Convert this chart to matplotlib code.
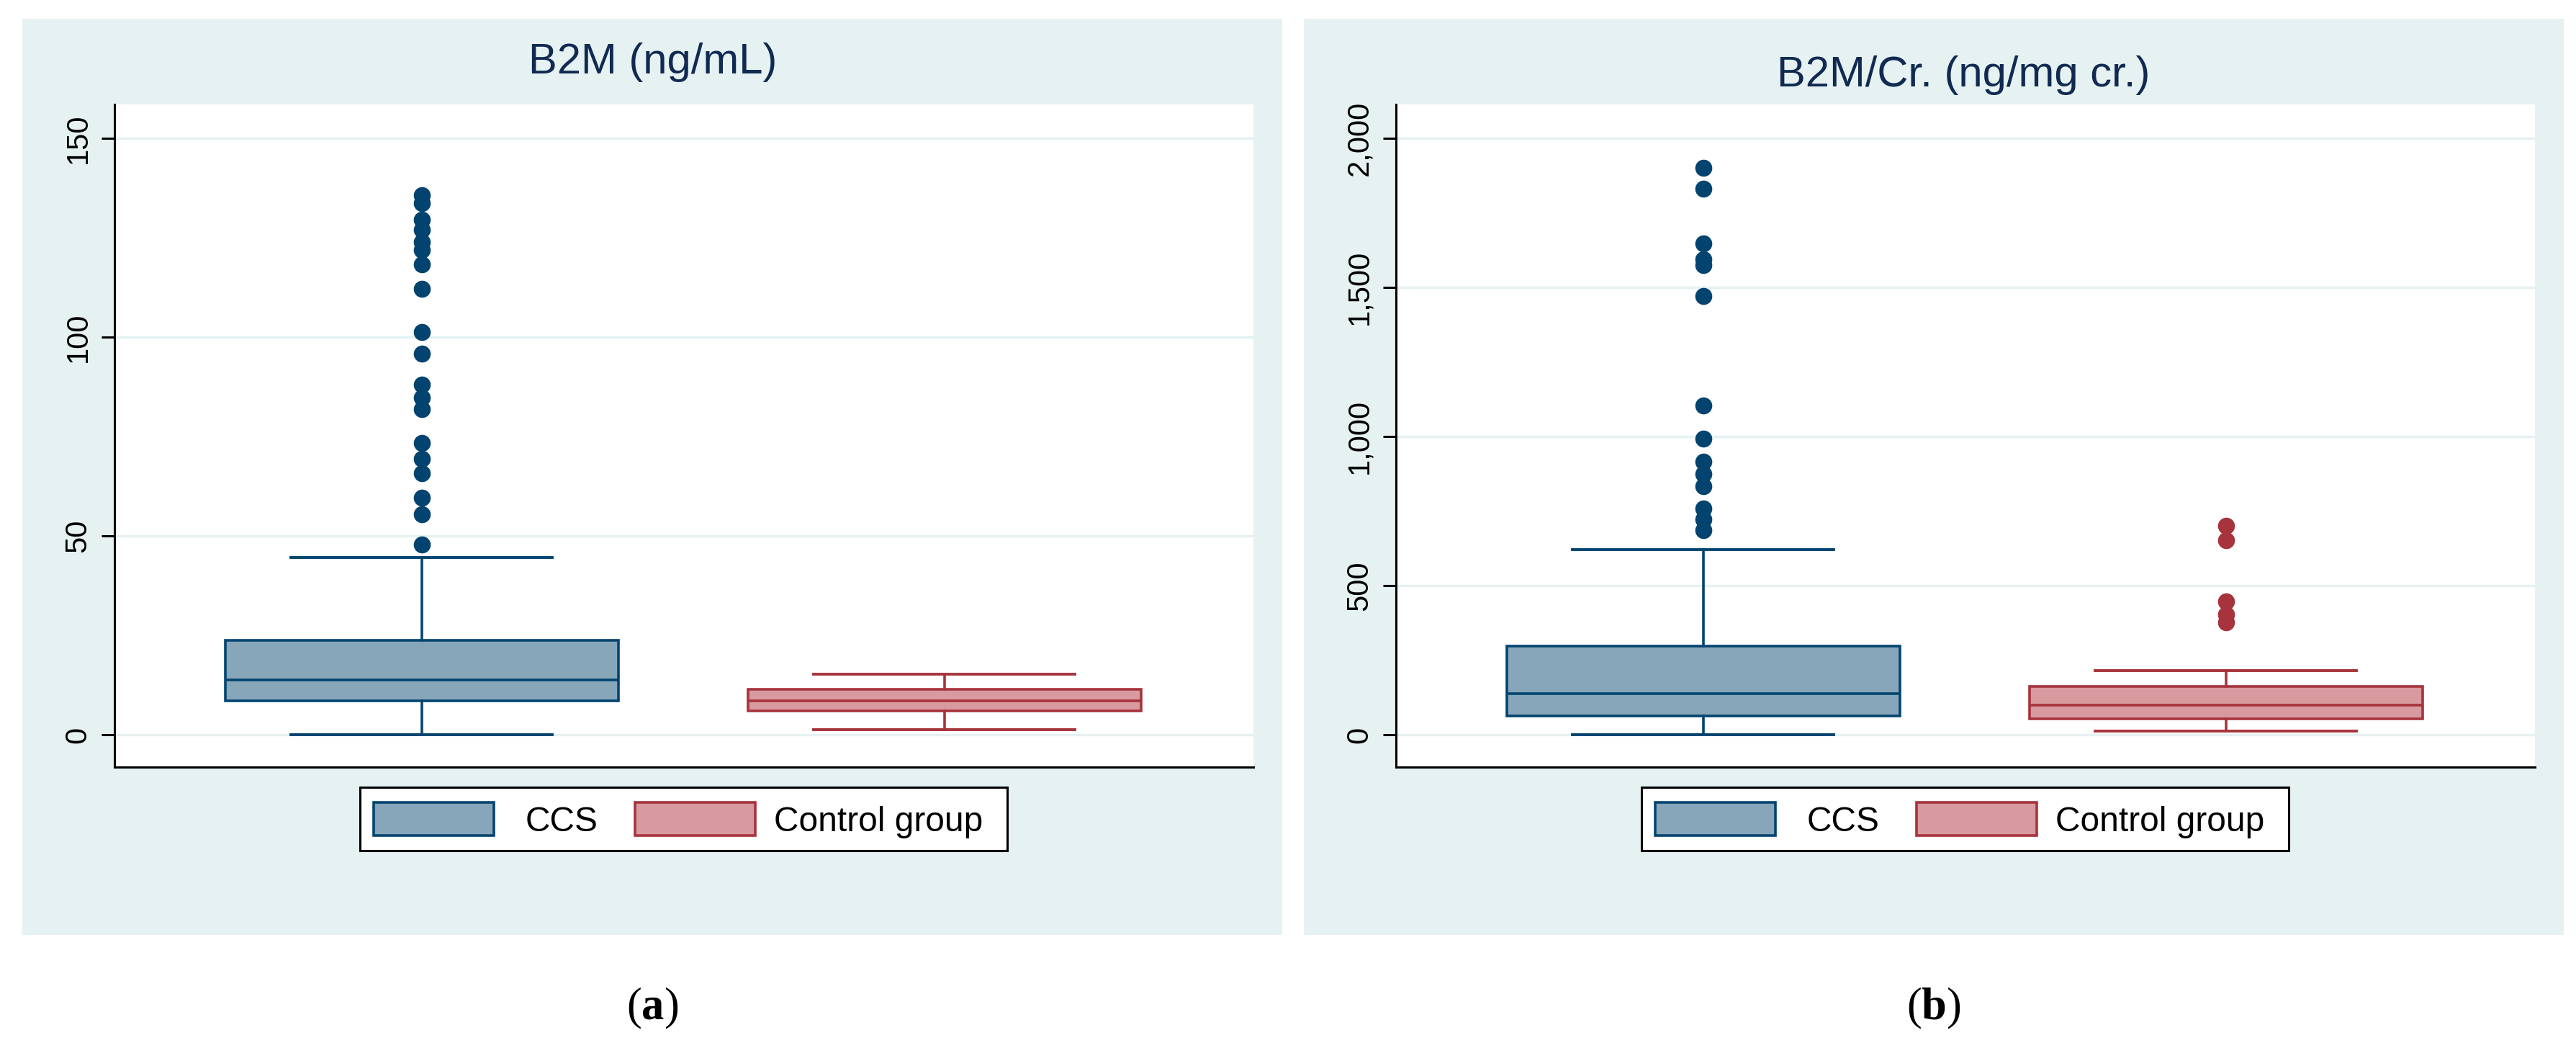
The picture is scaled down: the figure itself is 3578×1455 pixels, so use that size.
import matplotlib
matplotlib.use("Agg")
import matplotlib.pyplot as plt
from matplotlib.patches import Rectangle

plt.rcParams['font.family'] = ['Liberation Sans', 'DejaVu Sans']
plt.rcParams['mathtext.fontset'] = 'custom'
plt.rcParams['mathtext.rm'] = 'Liberation Serif'
plt.rcParams['mathtext.bf'] = 'Liberation Serif:bold'

# Dados
grupos = ['CCS', 'Control group']

# (a) B2M (ng/mL)
b2m_ccs = dict(whislo=0.0, q1=8.5, med=13.8, q3=23.7, whishi=44.6)
b2m_ccs_out = [135.6, 133.6, 129.5, 126.9, 123.9, 121.9, 118.2, 112.2, 101.2,
               95.8, 88.1, 84.7, 81.8, 73.3, 69.3, 65.7, 59.6, 55.5, 47.9]
b2m_ctrl = dict(whislo=1.3, q1=6.0, med=8.6, q3=11.4, whishi=15.2)
b2m_ctrl_out = []

# (b) B2M/Cr. (ng/mg cr.)
b2mcr_ccs = dict(whislo=1.0, q1=64, med=137, q3=296, whishi=621)
b2mcr_ccs_out = [1900, 1831, 1647, 1595, 1575, 1471, 1103, 992, 916, 874,
                 833, 759, 722, 687]
b2mcr_ctrl = dict(whislo=12, q1=53, med=98, q3=162, whishi=216)
b2mcr_ctrl_out = [701, 652, 448, 403, 376]

ticks_a = [0, 50, 100, 150]
ticks_b = [0, 500, 1000, 1500, 2000]
labels_b = ['0', '500', '1,000', '1,500', '2,000']

# Cores
bg = '#e6f1f2'
azul, azul_fill = '#02446f', '#88a6b9'
verm, verm_fill = '#a7333d', '#d89a9e'
navy = '#102a52'

W, H = 3578, 1455
fig = plt.figure(figsize=(W / 100, H / 100), dpi=100)
base = fig.add_axes([0, 0, 1, 1], zorder=0)
base.set_xlim(0, W)
base.set_ylim(H, 0)
base.axis('off')


def px_axes(x0, y0, x1, y1):
    return fig.add_axes([x0 / W, 1 - y1 / H, (x1 - x0) / W, (y1 - y0) / H], zorder=1)


def painel(x_off, stats_ccs, out_ccs, stats_ctrl, out_ctrl, ylim, ticks, labels,
           titulo, tit_x, tit_y, ptxt, p_x, p_y, legx, cap):
    # fundo do painel
    base.add_patch(Rectangle((31 + x_off, 26), 1750, 1272, color=bg, lw=0))
    ax = px_axes(159 + x_off, 145, 1741 + x_off, 1065)
    ax.set_facecolor('white')

    st = []
    for s, o in [(stats_ccs, out_ccs), (stats_ctrl, out_ctrl)]:
        d = dict(s)
        d['fliers'] = o
        st.append(d)
    bp = ax.bxp(st, positions=[1, 2], widths=0.752, capwidths=0.5, patch_artist=True,
                flierprops=dict(marker='o', markersize=17, markeredgewidth=0))
    for i, (ec, fc) in enumerate([(azul, azul_fill), (verm, verm_fill)]):
        bp['boxes'][i].set(facecolor=fc, edgecolor=ec, linewidth=2.6)
        bp['medians'][i].set(color=ec, linewidth=2.6)
        bp['fliers'][i].set(markerfacecolor=ec)
        for j in (2 * i, 2 * i + 1):
            bp['whiskers'][j].set(color=ec, linewidth=2.6)
            bp['caps'][j].set(color=ec, linewidth=2.8)

    ax.set_xlim(0.412, 2.591)
    ax.set_ylim(*ylim)
    ax.set_xticks([])
    ax.set_yticks(ticks)
    ax.set_yticklabels(labels, rotation=90, va='center', fontsize=30)
    ax.tick_params(axis='y', length=13, width=2.2, pad=9)
    ax.yaxis.grid(True, color=bg, linewidth=2.5)
    ax.set_axisbelow(True)
    for sp in ['top', 'right']:
        ax.spines[sp].set_visible(False)
    for sp in ['left', 'bottom']:
        ax.spines[sp].set_linewidth(2.2)

    base.text(tit_x, tit_y, titulo, ha='center', va='baseline', fontsize=43, color=navy)
    base.text(p_x, p_y, ptxt, ha='right', va='baseline', fontsize=31)

    # legenda
    base.add_patch(Rectangle((legx, 1093), 899, 88, facecolor='white',
                             edgecolor='black', lw=2.2))
    base.add_patch(Rectangle((legx + 19, 1114), 167, 46, facecolor=azul_fill,
                             edgecolor=azul, lw=2.6))
    base.text(legx + 230, 1154, grupos[0], ha='left', va='baseline', fontsize=34.5)
    base.add_patch(Rectangle((legx + 382, 1114), 167, 46, facecolor=verm_fill,
                             edgecolor=verm, lw=2.6))
    base.text(legx + 575, 1154, grupos[1], ha='left', va='baseline', fontsize=34.5)

    base.text(906 + x_off, 1415, cap, ha='center', va='baseline', fontsize=45)
    return ax


painel(0, b2m_ccs, b2m_ccs_out, b2m_ctrl, b2m_ctrl_out, (-8.15, 158.5),
       ticks_a, [str(t) for t in ticks_a], 'B2M (ng/mL)', 907, 102,
       'p < 0.001', 1693, 267, 500, r'$\mathrm{(}\mathbf{a}\mathrm{)}$')
painel(1780, b2mcr_ccs, b2mcr_ccs_out, b2mcr_ctrl, b2mcr_ctrl_out, (-108.7, 2113.5),
       ticks_b, labels_b, 'B2M/Cr. (ng/mg cr.)', 2727, 120,
       'p = 0.039', 3489, 255, 2280, r'$\mathrm{(}\mathbf{b}\mathrm{)}$')

fig.savefig('out.png', dpi=100, facecolor='white')
